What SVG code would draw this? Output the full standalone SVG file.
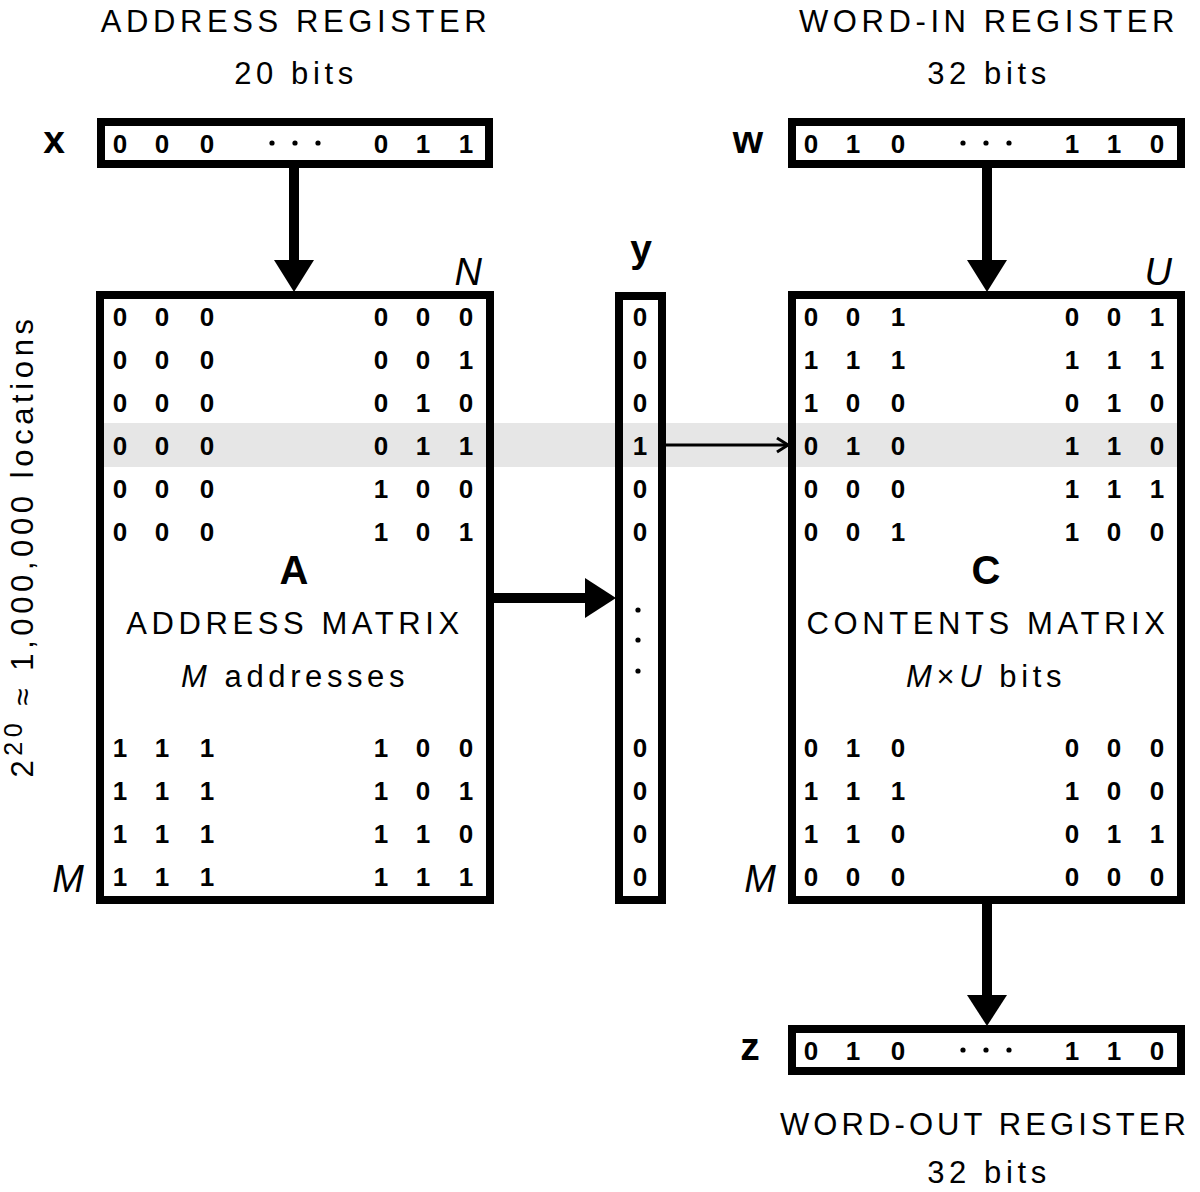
<svg xmlns="http://www.w3.org/2000/svg" width="1200" height="1192" viewBox="0 0 1200 1192">
<style>
text{font-family:"Liberation Sans",Arial,sans-serif;fill:#000}
.lbl{font-size:31px;letter-spacing:4.6px;text-anchor:middle}
.bit{font-size:26px;font-weight:bold;text-anchor:middle}
.var{font-size:39px;font-weight:bold;text-anchor:middle}
.big{font-size:40px;font-weight:bold;text-anchor:middle}
.it{font-size:38px;font-style:italic}
.box{fill:none;stroke:#000;stroke-width:8}
.shaft{stroke:#000;stroke-width:10}
.head{fill:#000}
.dt{fill:#000}
</style>
<rect id="highlight" x="96" y="423" width="1089" height="44" fill="#e6e6e6"/>

<g id="address-register">
<text class="lbl" x="296" y="32">ADDRESS REGISTER</text>
<text class="lbl" x="296" y="84">20 bits</text>
<text class="var" x="54" y="153">x</text>
<rect class="box" x="101" y="122" width="388" height="42"/>
<text class="bit" y="153"><tspan x="120">0</tspan><tspan x="162">0</tspan><tspan x="207">0</tspan><tspan x="381">0</tspan><tspan x="423">1</tspan><tspan x="466">1</tspan></text>
<circle class="dt" cx="272" cy="143" r="2.6"/><circle class="dt" cx="295" cy="143" r="2.6"/><circle class="dt" cx="318" cy="143" r="2.6"/>
</g>

<g id="word-in-register">
<text class="lbl" x="989" y="32">WORD-IN REGISTER</text>
<text class="lbl" x="989" y="84">32 bits</text>
<text class="var" x="748" y="153">w</text>
<rect class="box" x="792" y="122" width="389" height="42"/>
<text class="bit" y="153"><tspan x="811">0</tspan><tspan x="853">1</tspan><tspan x="898">0</tspan><tspan x="1072">1</tspan><tspan x="1114">1</tspan><tspan x="1157">0</tspan></text>
<circle class="dt" cx="963" cy="143" r="2.6"/><circle class="dt" cx="986" cy="143" r="2.6"/><circle class="dt" cx="1009" cy="143" r="2.6"/>
</g>

<g id="address-matrix">
<rect class="box" x="100" y="295" width="390" height="605"/>
<text class="it" x="482" y="285" text-anchor="end">N</text>
<text class="it" x="84" y="892" text-anchor="end">M</text>
<text class="bit"><tspan x="120" y="326">0</tspan><tspan x="162">0</tspan><tspan x="207">0</tspan><tspan x="381">0</tspan><tspan x="423">0</tspan><tspan x="466">0</tspan></text>
<text class="bit"><tspan x="120" y="369">0</tspan><tspan x="162">0</tspan><tspan x="207">0</tspan><tspan x="381">0</tspan><tspan x="423">0</tspan><tspan x="466">1</tspan></text>
<text class="bit"><tspan x="120" y="412">0</tspan><tspan x="162">0</tspan><tspan x="207">0</tspan><tspan x="381">0</tspan><tspan x="423">1</tspan><tspan x="466">0</tspan></text>
<text class="bit"><tspan x="120" y="455">0</tspan><tspan x="162">0</tspan><tspan x="207">0</tspan><tspan x="381">0</tspan><tspan x="423">1</tspan><tspan x="466">1</tspan></text>
<text class="bit"><tspan x="120" y="498">0</tspan><tspan x="162">0</tspan><tspan x="207">0</tspan><tspan x="381">1</tspan><tspan x="423">0</tspan><tspan x="466">0</tspan></text>
<text class="bit"><tspan x="120" y="541">0</tspan><tspan x="162">0</tspan><tspan x="207">0</tspan><tspan x="381">1</tspan><tspan x="423">0</tspan><tspan x="466">1</tspan></text>
<text class="big" x="294" y="584">A</text>
<text class="lbl" x="295" y="634">ADDRESS MATRIX</text>
<text class="lbl" x="295" y="687"><tspan font-style="italic">M</tspan> addresses</text>
<text class="bit"><tspan x="120" y="757">1</tspan><tspan x="162">1</tspan><tspan x="207">1</tspan><tspan x="381">1</tspan><tspan x="423">0</tspan><tspan x="466">0</tspan></text>
<text class="bit"><tspan x="120" y="800">1</tspan><tspan x="162">1</tspan><tspan x="207">1</tspan><tspan x="381">1</tspan><tspan x="423">0</tspan><tspan x="466">1</tspan></text>
<text class="bit"><tspan x="120" y="843">1</tspan><tspan x="162">1</tspan><tspan x="207">1</tspan><tspan x="381">1</tspan><tspan x="423">1</tspan><tspan x="466">0</tspan></text>
<text class="bit"><tspan x="120" y="886">1</tspan><tspan x="162">1</tspan><tspan x="207">1</tspan><tspan x="381">1</tspan><tspan x="423">1</tspan><tspan x="466">1</tspan></text>
</g>

<g id="locations-label">
<text class="lbl" transform="translate(33,546) rotate(-90)">2<tspan font-size="25px" dy="-11">20</tspan><tspan dy="11"> ≈ 1,000,000 locations</tspan></text>
</g>

<g id="y-vector">
<text class="var" x="641" y="262">y</text>
<rect class="box" x="619" y="296" width="43" height="604"/>
<text class="bit"><tspan x="640" y="326">0</tspan><tspan x="640" y="369">0</tspan><tspan x="640" y="412">0</tspan><tspan x="640" y="455">1</tspan><tspan x="640" y="498">0</tspan><tspan x="640" y="541">0</tspan><tspan x="640" y="757">0</tspan><tspan x="640" y="800">0</tspan><tspan x="640" y="843">0</tspan><tspan x="640" y="886">0</tspan></text>
<circle class="dt" cx="638" cy="610" r="2.6"/><circle class="dt" cx="638" cy="640" r="2.6"/><circle class="dt" cx="638" cy="671" r="2.6"/>
</g>

<g id="contents-matrix">
<rect class="box" x="792" y="295" width="389" height="605"/>
<text class="it" x="1172" y="285" text-anchor="end">U</text>
<text class="it" x="776" y="892" text-anchor="end">M</text>
<text class="bit"><tspan x="811" y="326">0</tspan><tspan x="853">0</tspan><tspan x="898">1</tspan><tspan x="1072">0</tspan><tspan x="1114">0</tspan><tspan x="1157">1</tspan></text>
<text class="bit"><tspan x="811" y="369">1</tspan><tspan x="853">1</tspan><tspan x="898">1</tspan><tspan x="1072">1</tspan><tspan x="1114">1</tspan><tspan x="1157">1</tspan></text>
<text class="bit"><tspan x="811" y="412">1</tspan><tspan x="853">0</tspan><tspan x="898">0</tspan><tspan x="1072">0</tspan><tspan x="1114">1</tspan><tspan x="1157">0</tspan></text>
<text class="bit"><tspan x="811" y="455">0</tspan><tspan x="853">1</tspan><tspan x="898">0</tspan><tspan x="1072">1</tspan><tspan x="1114">1</tspan><tspan x="1157">0</tspan></text>
<text class="bit"><tspan x="811" y="498">0</tspan><tspan x="853">0</tspan><tspan x="898">0</tspan><tspan x="1072">1</tspan><tspan x="1114">1</tspan><tspan x="1157">1</tspan></text>
<text class="bit"><tspan x="811" y="541">0</tspan><tspan x="853">0</tspan><tspan x="898">1</tspan><tspan x="1072">1</tspan><tspan x="1114">0</tspan><tspan x="1157">0</tspan></text>
<text class="big" x="986" y="584">C</text>
<text class="lbl" x="988" y="634">CONTENTS MATRIX</text>
<text class="lbl" x="986" y="687"><tspan font-style="italic">M</tspan>×<tspan font-style="italic">U</tspan> bits</text>
<text class="bit"><tspan x="811" y="757">0</tspan><tspan x="853">1</tspan><tspan x="898">0</tspan><tspan x="1072">0</tspan><tspan x="1114">0</tspan><tspan x="1157">0</tspan></text>
<text class="bit"><tspan x="811" y="800">1</tspan><tspan x="853">1</tspan><tspan x="898">1</tspan><tspan x="1072">1</tspan><tspan x="1114">0</tspan><tspan x="1157">0</tspan></text>
<text class="bit"><tspan x="811" y="843">1</tspan><tspan x="853">1</tspan><tspan x="898">0</tspan><tspan x="1072">0</tspan><tspan x="1114">1</tspan><tspan x="1157">1</tspan></text>
<text class="bit"><tspan x="811" y="886">0</tspan><tspan x="853">0</tspan><tspan x="898">0</tspan><tspan x="1072">0</tspan><tspan x="1114">0</tspan><tspan x="1157">0</tspan></text>
</g>

<g id="word-out-register">
<text class="var" x="750" y="1060">z</text>
<rect class="box" x="792" y="1029" width="389" height="42"/>
<text class="bit" y="1060"><tspan x="811">0</tspan><tspan x="853">1</tspan><tspan x="898">0</tspan><tspan x="1072">1</tspan><tspan x="1114">1</tspan><tspan x="1157">0</tspan></text>
<circle class="dt" cx="963" cy="1050" r="2.6"/><circle class="dt" cx="986" cy="1050" r="2.6"/><circle class="dt" cx="1009" cy="1050" r="2.6"/>
<text class="lbl" x="985" y="1135" style="letter-spacing:4.1px">WORD-OUT REGISTER</text>
<text class="lbl" x="989" y="1183">32 bits</text>
</g>

<g id="connectors">
<line class="shaft" x1="294" y1="166" x2="294" y2="262"/>
<polygon class="head" points="274,260 314,260 294,292"/>
<line class="shaft" x1="987" y1="166" x2="987" y2="262"/>
<polygon class="head" points="967,260 1007,260 987,292"/>
<line class="shaft" x1="987" y1="902" x2="987" y2="997"/>
<polygon class="head" points="967,995 1007,995 987,1026"/>
<line class="shaft" x1="492" y1="598" x2="587" y2="598"/>
<polygon class="head" points="585,578 585,618 616,598"/>
<line x1="666" y1="445" x2="787" y2="445" stroke="#000" stroke-width="3"/>
<polyline points="777,438 788,445 777,452" fill="none" stroke="#000" stroke-width="3"/>
</g>
</svg>
